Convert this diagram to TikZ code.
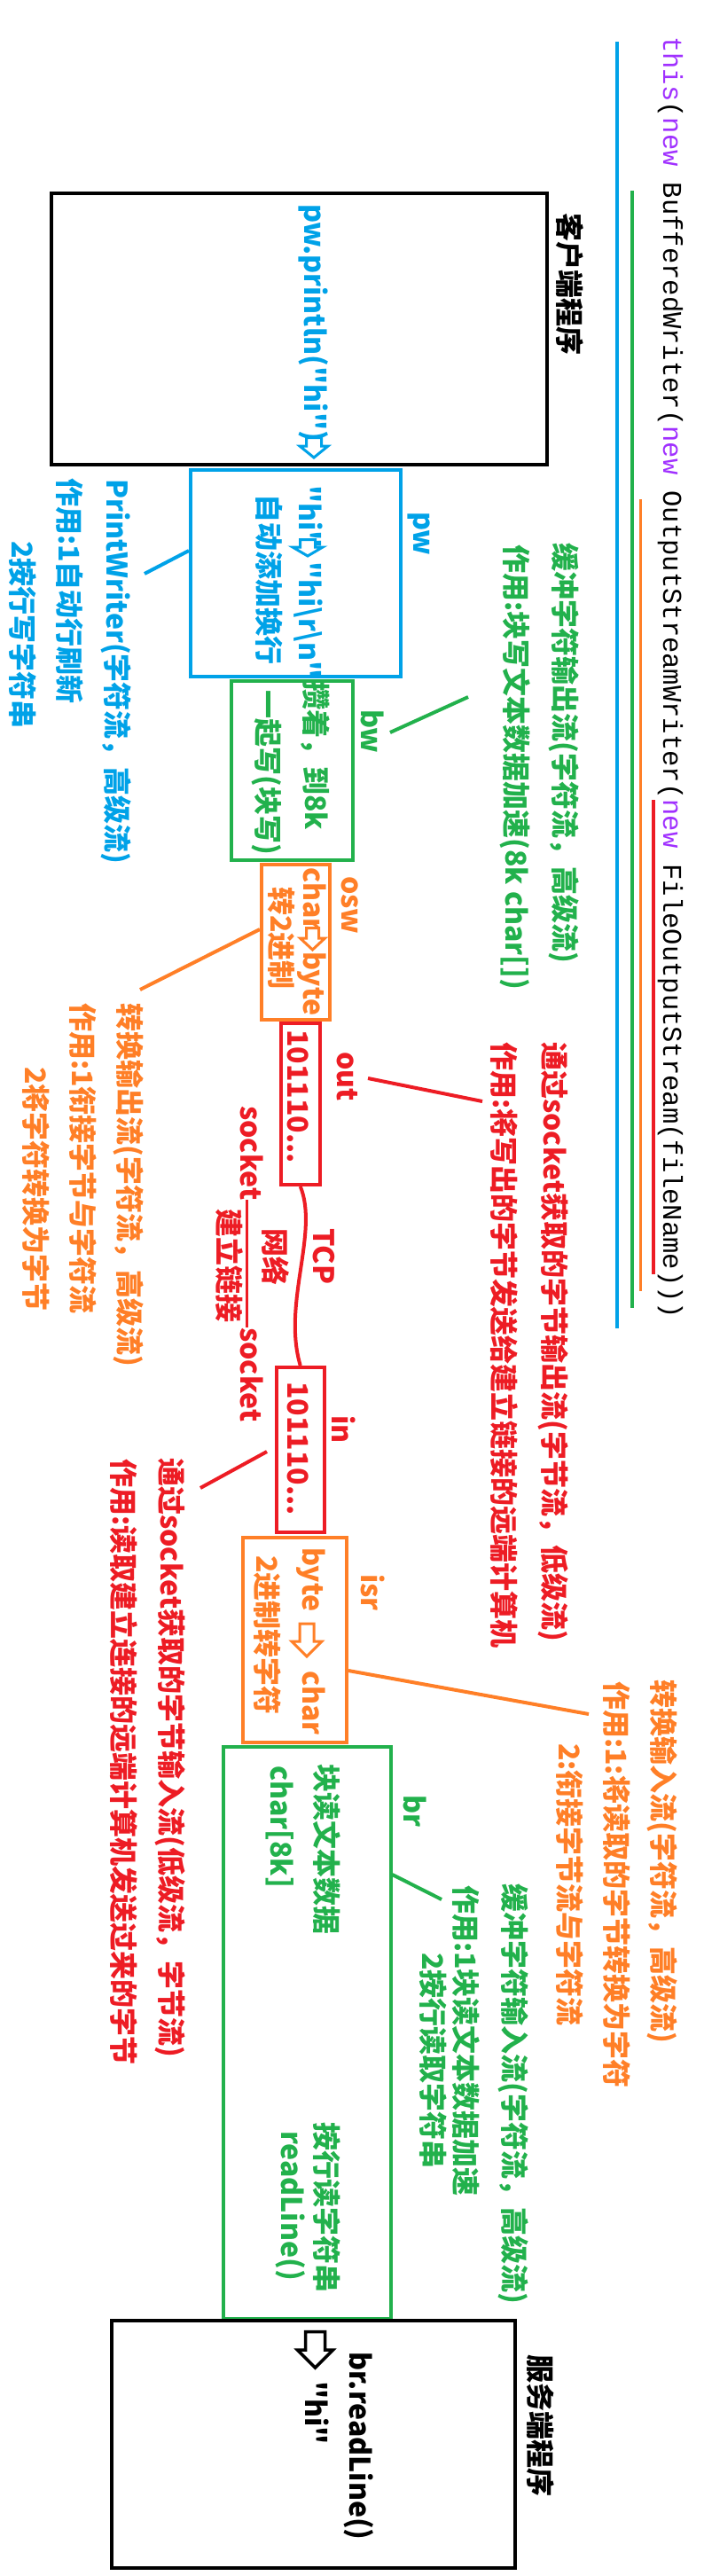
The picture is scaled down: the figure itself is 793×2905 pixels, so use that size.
\documentclass[tikz,border=0pt]{standalone}
\usepackage{fontspec}
\setmainfont{Noto Sans CJK SC}
\newfontfamily\codefont{Liberation Mono}
\definecolor{cblue}{RGB}{0,162,232}
\definecolor{cgreen}{RGB}{34,177,76}
\definecolor{corange}{RGB}{255,127,39}
\definecolor{cred}{RGB}{237,28,36}
\definecolor{cpurple}{RGB}{160,48,255}
\newcommand\hollowdown[7]{\draw[#1] (#2-#6,#3) -- (#2+#6,#3) -- (#2+#6,#4) -- (#2+#7,#4) -- (#2,#5) -- (#2-#7,#4) -- (#2-#6,#4) -- cycle;}
\newcommand\qd{\textquotedbl}
\begin{document}
\begin{tikzpicture}[x=1pt, y=-1pt,
  rt/.style={rotate=-90, anchor=base west, inner sep=0pt, font=\bfseries\fontsize{32}{38}\selectfont},
  bx/.style={draw, line width=4pt, inner sep=0pt},
  ln/.style={line width=4pt},
  ul/.style={line width=4pt},
  ar/.style={line width=3pt, line join=miter, fill=white},
]
\fill[white] (0,0) rectangle (793,2905);
\useasboundingbox (0,0) rectangle (793,2905);

% code line and underlines
\node[rotate=-90, anchor=base west, inner sep=0pt, font=\codefont\fontsize{30.5}{36}\selectfont] (code) at (748,41)
  {\textcolor{cpurple}{this}(\textcolor{cpurple}{new} BufferedWriter(\textcolor{cpurple}{new} OutputStreamWriter(\textcolor{cpurple}{new} FileOutputStream(fileName)))};
\draw[ul, cblue] (696,47) -- (696,1498);
\draw[ul, cgreen] (713,215) -- (713,1475);
\draw[ul, corange, line width=3pt] (722,563) -- (722,1456);
\draw[ul, cred] (737,902) -- (737,1437);

% boxes
\node[bx, line width=4.5pt, minimum width=559pt, minimum height=306pt] (client) at (337.5,371) {};
\node[bx, cblue, minimum width=237pt, minimum height=233pt] (pw) at (333.5,646.5) {};
\node[bx, cgreen, minimum width=137pt, minimum height=202pt] (bw) at (329.5,869) {};
\node[bx, corange, minimum width=77pt, minimum height=175pt] (osw) at (333.5,1062.5) {};
\node[bx, cred, minimum width=44.5pt, minimum height=182.5pt] (nout) at (338.75,1244.75) {};
\node[bx, cred, minimum width=53.5pt, minimum height=186pt] (nin) at (338.75,1635) {};
\node[bx, corange, minimum width=117.4pt, minimum height=231pt] (isr) at (332.3,1849) {};
\node[bx, cgreen, minimum width=188.5pt, minimum height=645pt] (br) at (346.25,2292.5) {};

% client
\node[rt] (cl) at (630,240) {客户端程序};
\node[rt, cblue] (println) at (343,230) {pw.println(\qd hi\qd)};
\hollowdown{ar, draw=cblue}{354}{493.5}{503}{516}{8.5}{16}

% pw
\node[rt, cblue] (hi1) at (337,547) {\qd hi\qd};
\hollowdown{ar, draw=cblue}{347}{608.5}{617}{627}{8.5}{17}
\node[rt, cblue] (hi2) at (337,633) {\qd hi\textbackslash r\textbackslash n\qd};
\node[rt, cblue] (zdtj) at (291,557) {自动添加换行};
\node[rt, cblue] (pwl) at (466,577) {pw};
\node[rt, cblue] (pwn1) at (120,540) {PrintWriter(字符流，高级流)};
\node[rt, cblue] (pwn2) at (66,539) {作用:1自动行刷新};
\node[rt, cblue] (pwn3) at (13,610) {2按行写字符串};
\coordinate (pwc) at (163,647);
\draw[ln, cblue] (pw.west |- 0,621) -- (pwc);

% bw
\node[rt, cgreen] (bwl) at (407,800) {bw};
\node[rt, cgreen] (bwt1) at (344,768) {攒着，到8k};
\node[rt, cgreen] (bwt2) at (290,778) {一起写(块写)};
\node[rt, cgreen] (bwn1) at (625,612) {缓冲字符输出流(字符流，高级流)};
\node[rt, cgreen] (bwn2) at (570,614) {作用:块写文本数据加速(8k char[])};
\coordinate (bwc1) at (440,826);
\coordinate (bwc2) at (528,786);
\draw[ln, cgreen] (bwc1) -- (bwc2);

% osw
\node[rt, corange] (oswl) at (385,988) {osw};
\node[rt, corange] (osw1a) at (342,978) {char};
\hollowdown{ar, draw=corange}{352.5}{1046.5}{1058}{1071}{7}{14}
\node[rt, corange] (osw1b) at (342,1073) {byte};
\node[rt, corange] (osw2) at (305,1000) {转2进制};
\node[rt, corange] (oswn1) at (134,1131) {转换输出流(字符流，高级流)};
\node[rt, corange] (oswn2) at (81,1131) {作用:1衔接字节与字符流};
\node[rt, corange] (oswn3) at (28,1203) {2将字符转换为字节};
\coordinate (oswc) at (158,1116);
\draw[ln, corange] (osw.west |- 0,1048) -- (oswc);

% out
\node[rt, cred] (outl) at (380,1186) {out};
\node[rt, cred] (outt) at (324,1161) {101110...};
\node[rt, cred] (outn1) at (613,1175) {通过socket获取的字节输出流(字节流，低级流)};
\node[rt, cred] (outn2) at (556,1175) {作用:将写出的字节发送给建立链接的远端计算机};
\coordinate (outc1) at (415,1216);
\coordinate (outc2) at (544,1242);
\draw[ln, cred] (outc1) -- (outc2);

% network
\node[rt, cred] (sock1) at (271,1247) {socket};
\node[rt, cred] (tcp) at (353,1385) {TCP};
\node[rt, cred] (wl) at (298,1385) {网络};
\node[rt, cred] (jllj) at (246,1363) {建立链接};
\node[rt, cred] (sock2) at (271,1497) {socket};
\draw[cred, line width=3pt] (278,0 |- sock1.east) -- (278,0 |- sock2.west);
\draw[cred, line width=4pt] (nout.south) .. controls (360,1390) and (318,1470) .. (nin.north);

% in
\node[rt, cred] (inl) at (374,1596) {in};
\node[rt, cred] (intx) at (324,1558) {101110...};
\node[rt, cred] (inn1) at (181,1644) {通过socket获取的字节输入流(低级流，字节流)};
\node[rt, cred] (inn2) at (127,1645) {作用:读取建立连接的远端计算机发送过来的字节};
\coordinate (inc1) at (301,1637);
\coordinate (inc2) at (226,1678);
\draw[ln, cred] (inc1) -- (inc2);

% isr
\node[rt, corange] (isrl) at (407,1775) {isr};
\node[rt, corange] (isr1a) at (341,1745) {byte};
\hollowdown{ar, draw=corange}{346}{1831}{1851}{1868}{8}{17}
\node[rt, corange] (isr1b) at (341,1884) {char};
\node[rt, corange] (isr2) at (289,1754) {2进制转字符};
\node[rt, corange] (isrn1) at (736,1894) {转换输入流(字符流，高级流)};
\node[rt, corange] (isrn2) at (683,1896) {作用:1:将读取的字节转换为字符};
\node[rt, corange] (isrn3) at (630,1966) {2:衔接字节流与字符流};
\coordinate (isrc) at (664,1933);
\draw[ln, corange] (isr.east |- 0,1884) -- (isrc);

% br
\node[rt, cgreen] (brl) at (455,2024) {br};
\node[rt, cgreen] (brt1) at (356,1989) {块读文本数据};
\node[rt, cgreen] (brt2) at (305,1991) {char[8k]};
\node[rt, cgreen] (brt3) at (356,2393) {按行读字符串};
\node[rt, cgreen] (brt4) at (317,2403) {readLine()};
\node[rt, cgreen] (brn1) at (568,2124) {缓冲字符输入流(字符流，高级流)};
\node[rt, cgreen] (brn2) at (513,2126) {作用:1块读文本数据加速};
\node[rt, cgreen] (brn3) at (476,2202) {2按行读取字符串};
\coordinate (brc) at (498,2142);
\draw[ln, cgreen] (br.east |- 0,2114) -- (brc);

% server
\node[bx, line width=4.5pt, minimum width=455pt, minimum height=279pt] (server) at (353.5,2756.5) {};
\node[rt] (sv) at (597,2655) {服务端程序};
\hollowdown{ar, draw=black, line width=3.5pt}{355.5}{2629.5}{2650}{2670}{11}{20}
\node[rt] (brr) at (394,2652) {br.readLine()};
\node[rt] (hi3) at (344,2685) {\qd hi\qd};
\end{tikzpicture}
\end{document}
